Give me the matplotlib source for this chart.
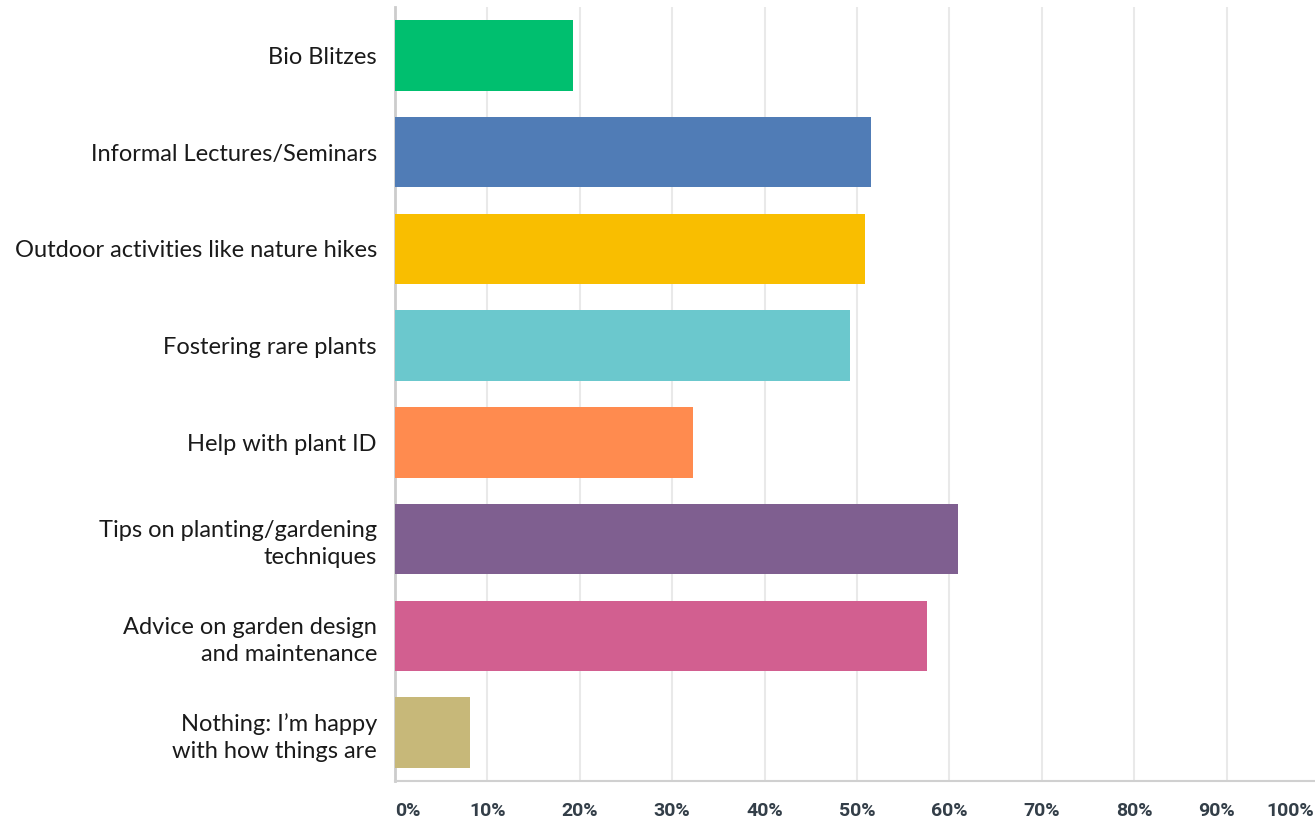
import matplotlib
matplotlib.use("Agg")
import matplotlib.pyplot as plt
import matplotlib.transforms as mtransforms

categories = [
    "Bio Blitzes",
    "Informal Lectures/Seminars",
    "Outdoor activities like nature hikes",
    "Fostering rare plants",
    "Help with plant ID",
    "Tips on planting/gardening\ntechniques",
    "Advice on garden design\nand maintenance",
    "Nothing: I\u2019m happy\nwith how things are",
]
values = [19.3, 51.5, 50.9, 49.2, 32.2, 60.9, 57.6, 8.1]
colors = ["#00bf6f", "#507cb6", "#f9be00", "#6bc8cd", "#ff8b4f",
          "#7f5f90", "#d25f90", "#c7b879"]
ticks = [0, 10, 20, 30, 40, 50, 60, 70, 80, 90, 100]
tick_labels = [f"{t}%" for t in ticks]

fig = plt.figure(figsize=(13.15, 8.22), dpi=100)
ax = fig.add_axes([395 / 1315, 1 - 781 / 822, 924 / 1315, 774 / 822])

y = list(range(len(categories)))
ax.barh(y, values, height=0.73, color=colors, zorder=3)
ax.set_xlim(0, 100)
ax.set_ylim(len(categories) - 0.5, -0.5)

ax.set_xticks(ticks)
ax.set_xticklabels(tick_labels)
ax.grid(axis="x", color="#e9e9e9", linewidth=1.5, zorder=0)
ax.set_yticks(y)
ax.set_yticklabels(categories, family="Lato", fontsize=17, color="#1a1a1a",
                   linespacing=1.35)
ax.tick_params(axis="y", length=0, pad=13)
ax.tick_params(axis="x", length=0, pad=15, labelsize=14, labelcolor="#333e48")
for lab in ax.get_xticklabels():
    lab.set_fontweight("bold")
    lab.set_family("Roboto")
labs = ax.get_xticklabels()
labs[0].set_ha("left")
labs[-1].set_ha("right")
labs[-1].set_transform(labs[-1].get_transform()
                       + mtransforms.ScaledTranslation(-5 / 100, 0, fig.dpi_scale_trans))
labs[-2].set_transform(labs[-2].get_transform()
                       + mtransforms.ScaledTranslation(-10 / 100, 0, fig.dpi_scale_trans))

for s in ["top", "right"]:
    ax.spines[s].set_visible(False)
ax.spines["left"].set_color("#cccccc")
ax.spines["left"].set_linewidth(2)
ax.spines["bottom"].set_color("#d0d0d0")
ax.spines["bottom"].set_linewidth(1.5)

fig.savefig("out.png", dpi=100)
